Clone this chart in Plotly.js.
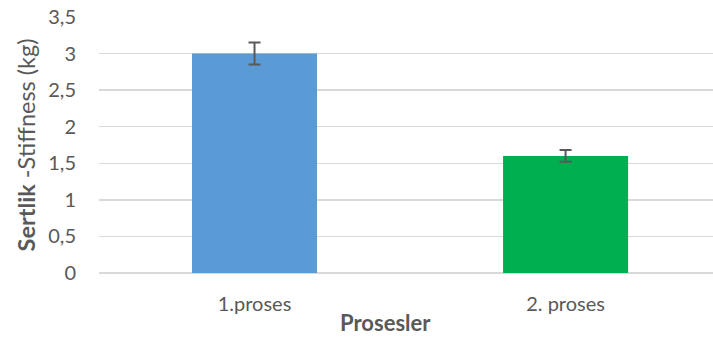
<!DOCTYPE html>
<html>
<head>
<meta charset="utf-8">
<script src="https://cdn.plot.ly/plotly-3.0.1.min.js"></script>
<style>html,body{margin:0;padding:0;background:#fff;}#chart{width:713px;height:345px;}</style>
</head>
<body>
<div id="chart"></div>
<script>
const categories = ["1.proses", "2. proses"];
const values = [3.0, 1.6];
const errors = [0.15, 0.08];
const barColors = ["#5B9BD5", "#00B050"];
const yTickVals = [0, 0.5, 1, 1.5, 2, 2.5, 3, 3.5];
const yTickText = ["0", "0,5", "1", "1,5", "2", "2,5", "3", "3,5"];

const font = "Lato, 'Open Sans', 'Noto Sans', sans-serif";

const data = [{
  type: "bar",
  x: categories,
  y: values,
  width: 0.402,
  marker: {color: barColors},
  error_y: {type: "data", array: errors, visible: true, color: "#595959", thickness: 2, width: 6},
  hoverinfo: "none"
}];

const layout = {
  width: 713, height: 345,
  margin: {l: 99, r: 0, t: 17, b: 72},
  paper_bgcolor: "#fff", plot_bgcolor: "#fff",
  showlegend: false,
  font: {family: font, color: "#595959", size: 20},
  xaxis: {
    type: "category",
    range: [-0.5, 1.474],
    showgrid: false, zeroline: false,
    showline: false,
    ticks: "",
    tickfont: {size: 20, color: "#595959"},
    ticklabelstandoff: 17
  },
  yaxis: {
    range: [0, 3.5],
    tickvals: yTickVals, ticktext: yTickText,
    showgrid: true, gridcolor: "#D9D9D9", gridwidth: 1.3,
    zeroline: true, zerolinecolor: "#D9D9D9", zerolinewidth: 1.3,
    showline: false, ticks: "",
    tickfont: {size: 20, color: "#595959"},
    ticklabelstandoff: 22,
    title: {text: "<b>Sertlik</b> -Stiffness (kg)", font: {size: 23.5, color: "#595959"}, standoff: 6}
  },
  annotations: [{
    text: "<b>Prosesler</b>", xref: "paper", yref: "paper",
    x: 0.466, y: 0, yshift: -49, xanchor: "center", yanchor: "middle",
    showarrow: false, font: {size: 22, color: "#595959", family: font}
  }]
};

Plotly.newPlot("chart", data, layout, {staticPlot: true, displayModeBar: false});
</script>
</body>
</html>
